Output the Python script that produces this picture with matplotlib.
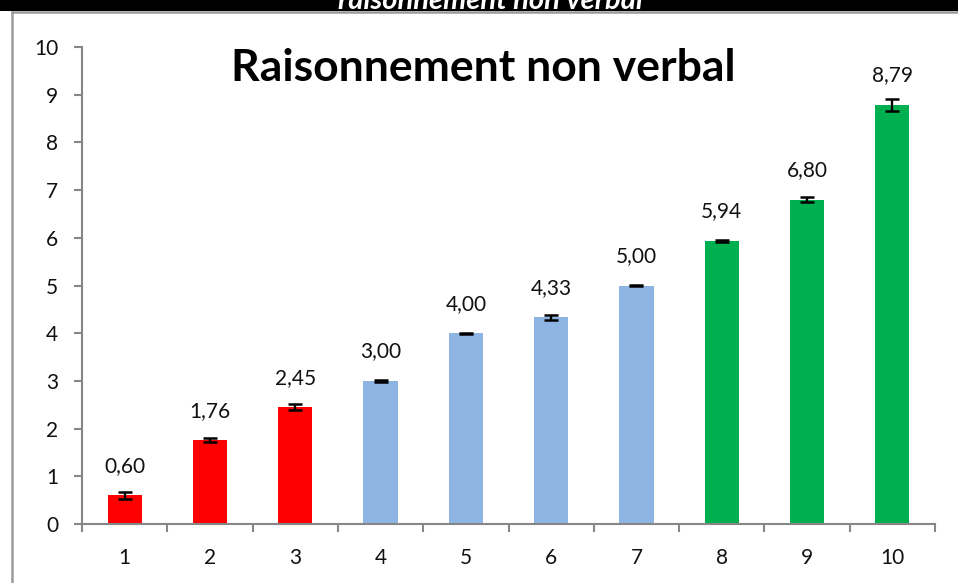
import matplotlib
matplotlib.use("Agg")
import matplotlib.pyplot as plt
from matplotlib.lines import Line2D
from matplotlib.patches import Rectangle

categories = ["1", "2", "3", "4", "5", "6", "7", "8", "9", "10"]
values = [0.60, 1.76, 2.45, 3.00, 4.00, 4.33, 5.00, 5.94, 6.80, 8.79]
errors = [0.07, 0.05, 0.07, 0.02, 0.01, 0.05, 0.01, 0.02, 0.05, 0.13]
labels = ["0,60", "1,76", "2,45", "3,00", "4,00", "4,33", "5,00", "5,94", "6,80", "8,79"]
colors = ["#FF0000"] * 3 + ["#8DB4E2"] * 4 + ["#00B050"] * 3
title = "Raisonnement non verbal"
banner = "raisonnement non verbal"

plt.rcParams['font.family'] = ['Lato', 'DejaVu Sans']

W, H = 958, 583
fig = plt.figure(figsize=(W / 100, H / 100), dpi=100)
fig.patch.set_facecolor("white")

# black banner at top (its title is cut off by the top edge, as in the reference)
fig.patches.append(Rectangle((0, 1 - 11 / H), 1, 11 / H, transform=fig.transFigure,
                             facecolor="black", edgecolor="none", zorder=0))
fig.text(0.512, 1.0 - 1 / H, banner, color="white", fontsize=21, fontweight="bold",
         fontstyle="italic", ha="center", va="center", zorder=1)
# gray frame
fig.lines.append(Line2D([12 / W, 12 / W], [0, 1 - 12 / H], transform=fig.transFigure,
                        color="#9a9a9a", lw=1.8))
fig.lines.append(Line2D([12 / W, 1], [1 - 12 / H, 1 - 12 / H], transform=fig.transFigure,
                        color="#9a9a9a", lw=1.8))

ax = fig.add_axes([82 / W, 59 / H, (935 - 82) / W, (524 - 47) / H])
x = list(range(1, len(values) + 1))
ax.bar(x, values, width=0.4, color=colors, zorder=2)
ax.errorbar(x, values, yerr=errors, fmt="none", ecolor="black", elinewidth=1.7,
            capsize=5, capthick=1.8, zorder=3)
for xi, v, lab in zip(x, values, labels):
    ax.annotate(lab, (xi, v), xytext=(0, 14), textcoords="offset points",
                ha="center", va="bottom", fontsize=15, color="#111111")

ax.set_xlim(0.5, 10.5)
ax.set_ylim(0, 10)
ax.set_yticks(range(0, 11))
ax.set_xticks(x)
ax.set_xticklabels(categories)
ax.set_xticks([i + 0.5 for i in range(0, 11)], minor=True)
ax.tick_params(axis="x", which="major", length=0, pad=17, labelsize=15, labelcolor="#111111")
ax.tick_params(axis="x", which="minor", length=6, width=1.5, color="#868686", direction="out")
ax.tick_params(axis="y", length=6, width=1.5, color="#868686", labelsize=15, pad=11,
               labelcolor="#111111")
for s in ["top", "right"]:
    ax.spines[s].set_visible(False)
for s in ["left", "bottom"]:
    ax.spines[s].set_color("#868686")
    ax.spines[s].set_linewidth(1.5)

ax.text(0.47, 0.955, title, transform=ax.transAxes, ha="center", va="center",
        fontsize=32, fontweight="bold", color="black")

fig.savefig("out.png", dpi=100)
